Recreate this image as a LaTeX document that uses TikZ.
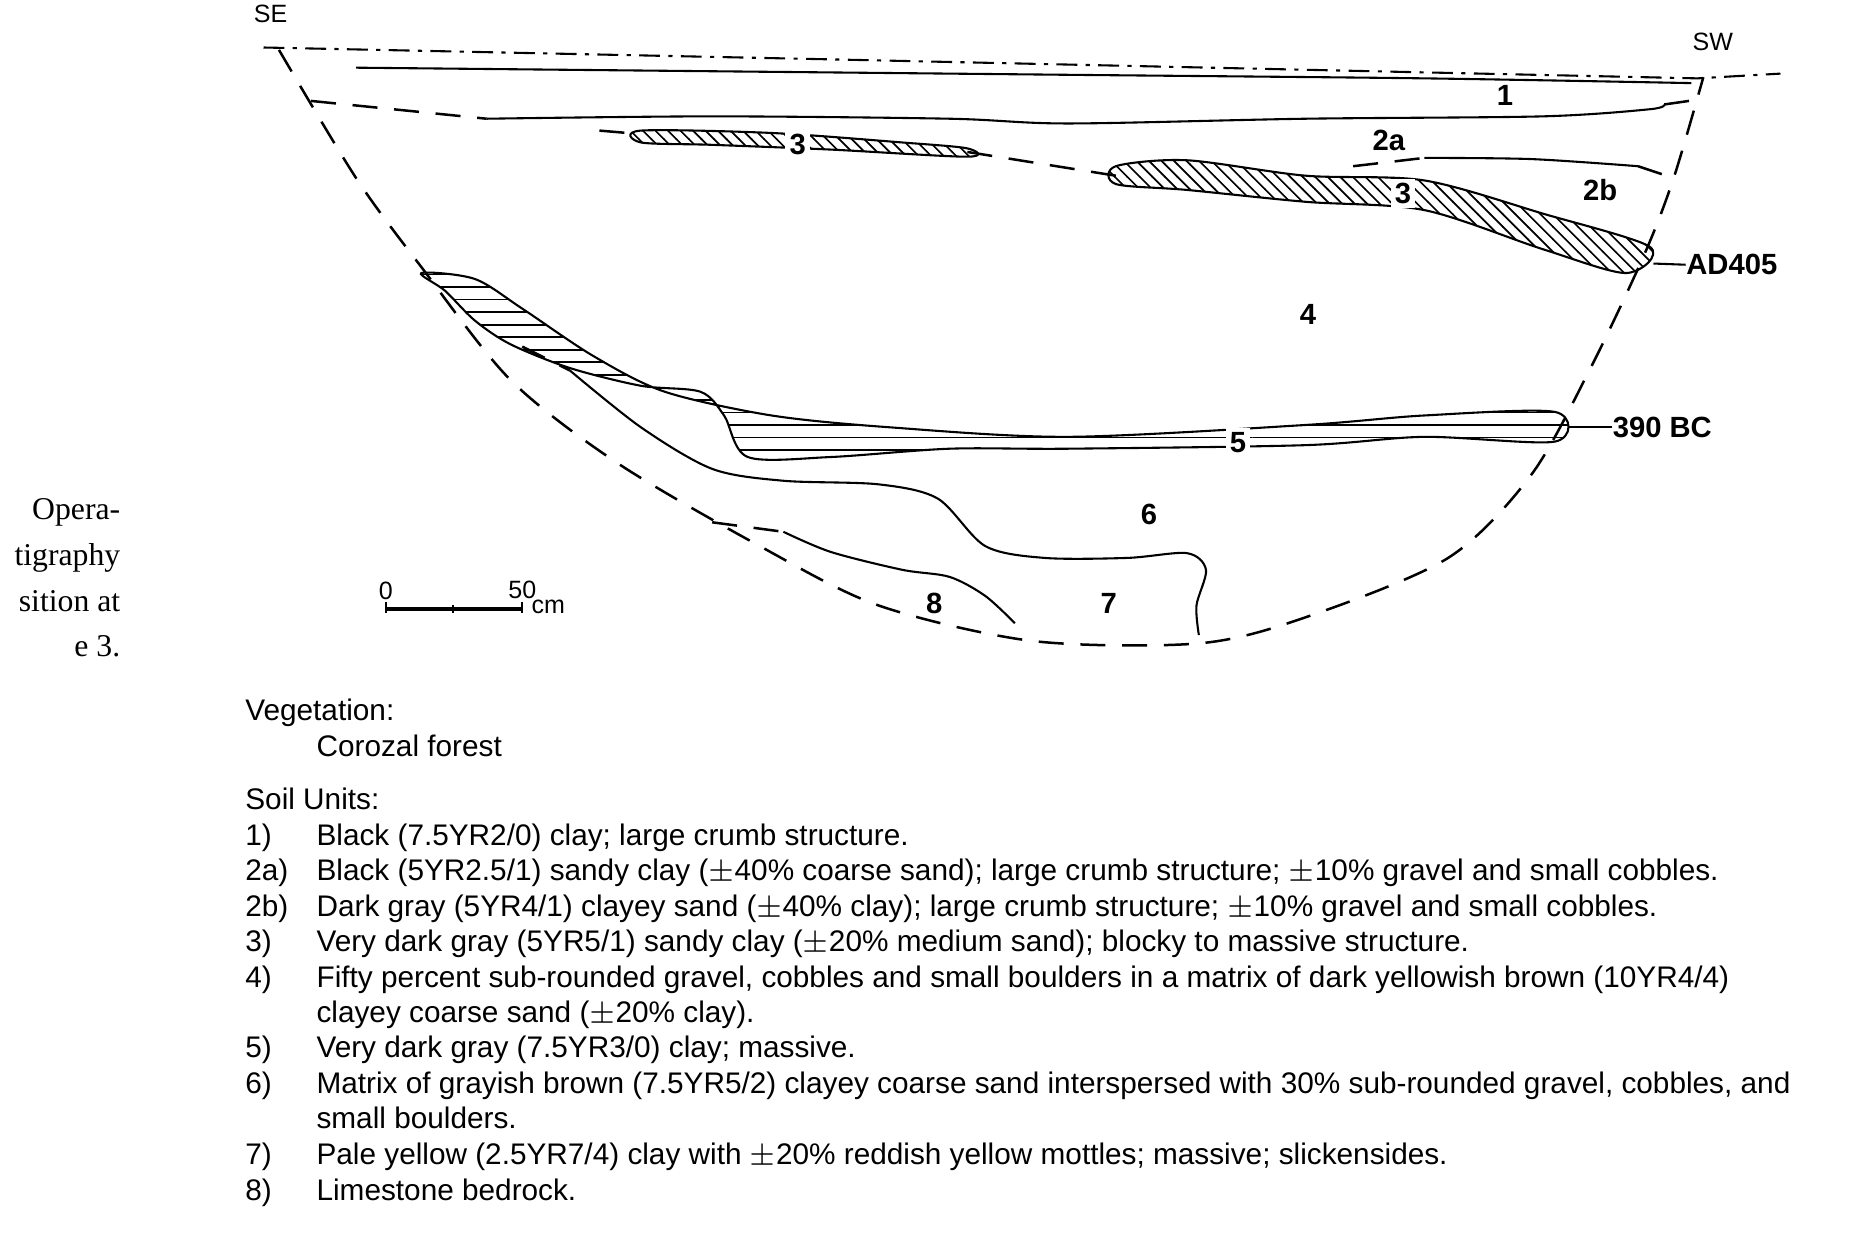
\documentclass[tikz,border=0pt]{standalone}
\usepackage{fontspec}
\setmainfont{Liberation Sans}
\newfontfamily\serfont{Liberation Serif}
\usetikzlibrary{patterns}
\begin{document}
\begin{tikzpicture}[x=0.01cm,y=-0.01cm,
  lbl/.style={font=\fontsize{7}{7}\selectfont\bfseries,inner sep=1pt},
  wl/.style={lbl,fill=white},
  txt/.style={font=\fontsize{7.13}{8}\selectfont,anchor=base west,inner sep=0pt},
  ser/.style={font=\serfont\fontsize{7.6}{8}\selectfont,anchor=base east,inner sep=0pt},
  ln/.style={line width=0.5pt},
  dsh/.style={line width=0.6pt,dash pattern=on 6pt off 4pt}]
\useasboundingbox (0,0) rectangle (1567,1056);
% cut-off caption
\node[ser] (c1) at (102,438) {Opera-};
\node[ser] (c2) at (102,476) {tigraphy};
\node[ser] (c3) at (102,515) {sition at};
\node[ser] (c4) at (102,553) {e 3.};
% surface
\draw[ln,dash pattern=on 5pt off 2pt on 1pt off 2pt] (222,40) -- (700,50) -- (1430,66) -- (1500,62);
\draw[ln] plot[smooth] coordinates {(300,57) (600,60) (900,63) (1200,66) (1425,70)};
% outer boundary
\draw[dsh] plot[smooth] coordinates {(235,42) (300,150) (355,225) (430,320) (520,390) (640,460) (740,510) (870,540) (1010,542) (1100,520) (1220,470) (1290,400) (1340,310) (1385,215) (1410,150) (1435,65)};
% bottom of 1
\draw[dsh] (262,85) -- (410,100);
\draw[ln] plot[smooth] coordinates {(410,100) (600,98) (800,100) (900,104) (1100,100) (1300,98) (1390,92) (1402,88)};
\draw[dsh] (1402,88) -- (1430,84);
% left lens 3
\draw[ln,pattern=north west lines] plot[smooth cycle] coordinates {(540,110) (650,112) (760,120) (815,125) (815,132) (700,126) (600,122) (540,120)};
\draw[dsh] (505,110) -- (540,113);
\draw[dsh] (815,128) -- (940,148);
% right layer 3
\draw[ln,pattern=north west lines] plot[smooth cycle] coordinates {(940,140) (1000,135) (1100,148) (1200,152) (1300,180) (1390,208) (1370,230) (1300,210) (1200,177) (1100,170) (1000,160) (940,155)};
% 2a/2b boundary
\draw[dsh] (1140,140) -- (1200,133);
\draw[ln] plot[smooth] coordinates {(1200,133) (1290,134) (1380,140)};
\draw[dsh] (1380,140) -- (1410,150);
% layer 5
\draw[ln,pattern=horizontal lines] plot[smooth cycle] coordinates {(355,230) (400,235) (440,260) (500,300) (560,330) (650,350) (750,360) (900,368) (1100,358) (1200,350) (1310,347) (1310,372) (1200,368) (1100,375) (900,378) (800,378) (700,385) (630,385) (610,350) (590,330) (540,325) (480,310) (430,290) (400,270) (375,245)};
% layer 6 lower boundary
\draw[dsh] (440,292) -- (480,312);
\draw[ln] plot[smooth] coordinates {(480,312) (540,360) (600,395) (660,405) (740,408) (790,420) (830,460) (880,470) (950,470) (1000,466) (1016,480) (1008,510) (1010,535)};
% 7/8 boundary
\draw[dsh] (600,440) -- (660,448);
\draw[ln] plot[smooth] coordinates {(660,448) (700,465) (760,480) (800,486) (830,502) (855,525)};
% labels
\node[inner sep=0pt,font=\fontsize{6}{6}\selectfont] (se) at (228,12) {SE};
\node[inner sep=0pt,font=\fontsize{6}{6}\selectfont] (sw) at (1443,35) {SW};
\node[lbl] (l1) at (1268,80) {1};
\node[lbl] (l2a) at (1170,118) {2a};
\node[lbl] (l2b) at (1348,160) {2b};
\node[wl] (l3a) at (672,122) {3};
\node[wl] (l3b) at (1182,163) {3};
\node[lbl] (l4) at (1102,265) {4};
\node[wl] (l5) at (1043,373) {5};
\node[lbl] (l6) at (968,433) {6};
\node[lbl] (l7) at (934,508) {7};
\node[lbl] (l8) at (787,508) {8};
\node[lbl,anchor=west,inner sep=0pt] (ad) at (1420,223) {AD405};
\coordinate (adl) at (1393,222);
\draw[ln] (adl) -- (ad.west);
\node[lbl,anchor=west,inner sep=0pt] (bc) at (1358,360) {390 BC};
\coordinate (bcl) at (1322,360);
\draw[ln] (bcl) -- (bc.west);
% scale bar
\coordinate (s0) at (325,513); \coordinate (s1) at (440,513);
\draw[line width=1pt] (s0) -- (s1);
\draw[ln] (325,507) -- (325,516) (382,510) -- (382,516) (440,507) -- (440,516);
\node[inner sep=0pt,font=\fontsize{6}{6}\selectfont] (z0) at (325,498) {0};
\node[inner sep=0pt,font=\fontsize{6}{6}\selectfont] (z50) at (440,497) {50};
\node[inner sep=0pt,font=\fontsize{6}{6}\selectfont] (zcm) at (462,511) {cm};
% text
\node[txt] (veg) at (206,607) {Vegetation:};
\node[txt] (cor) at (266,637) {Corozal forest};
\node[txt] (su) at (206,682) {Soil Units:};
\foreach \n/\y/\t in {a/712/{1)},b/742/{2a)},c/772/{2b)},d/802/{3)},e/832/{4)},f/891/{5)},g/921/{6)},h/981/{7)},i/1011/{8)}}
  \node[txt] (n\n) at (206,\y) {\t};
\node[txt] (t1) at (266,712) {Black (7.5YR2/0) clay; large crumb structure.};
\node[txt] (t2) at (266,742) {Black (5YR2.5/1) sandy clay ($\pm$40\% coarse sand); large crumb structure; $\pm$10\% gravel and small cobbles.};
\node[txt] (t3) at (266,772) {Dark gray (5YR4/1) clayey sand ($\pm$40\% clay); large crumb structure; $\pm$10\% gravel and small cobbles.};
\node[txt] (t4) at (266,802) {Very dark gray (5YR5/1) sandy clay ($\pm$20\% medium sand); blocky to massive structure.};
\node[txt] (t5) at (266,832) {Fifty percent sub-rounded gravel, cobbles and small boulders in a matrix of dark yellowish brown (10YR4/4)};
\node[txt] (t5b) at (266,861) {clayey coarse sand ($\pm$20\% clay).};
\node[txt] (t6) at (266,891) {Very dark gray (7.5YR3/0) clay; massive.};
\node[txt] (t7) at (266,921) {Matrix of grayish brown (7.5YR5/2) clayey coarse sand interspersed with 30\% sub-rounded gravel, cobbles, and};
\node[txt] (t7b) at (266,951) {small boulders.};
\node[txt] (t8) at (266,981) {Pale yellow (2.5YR7/4) clay with $\pm$20\% reddish yellow mottles; massive; slickensides.};
\node[txt] (t9) at (266,1011) {Limestone bedrock.};
\end{tikzpicture}
\end{document}
